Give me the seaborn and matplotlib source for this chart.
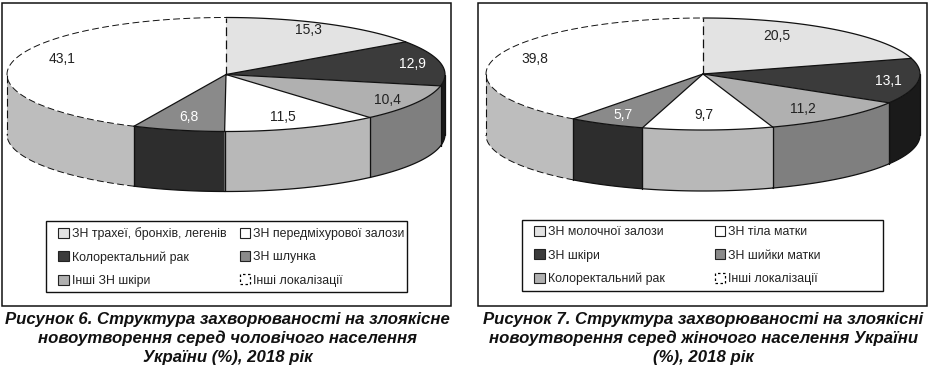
import matplotlib
matplotlib.use("Agg")
import matplotlib.pyplot as plt
import numpy as np
import seaborn as sns
from matplotlib.patches import Patch, Rectangle

# Valores
labels_m = ["ЗН трахеї, бронхів, легенів", "Колоректальний рак", "Інші ЗН шкіри",
            "ЗН передміхурової залози", "ЗН шлунка", "Інші локалізації"]
values_m = [15.3, 12.9, 10.4, 11.5, 6.8, 43.1]
title_m = "Рисунок 6. Структура захворюваності на злоякісне\nновоутворення серед чоловічого населення\nУкраїни (%), 2018 рік"

labels_f = ["ЗН молочної залози", "ЗН шкіри", "Колоректальний рак",
            "ЗН тіла матки", "ЗН шийки матки", "Інші локалізації"]
values_f = [20.5, 13.1, 11.2, 9.7, 5.7, 39.8]
title_f = "Рисунок 7. Структура захворюваності на злоякісні\nновоутворення серед жіночого населення України\n(%), 2018 рік"

top_colors = ["#e3e3e3", "#3b3b3b", "#b0b0b0", "#ffffff", "#8a8a8a", "#ffffff"]
side_colors = ["#e3e3e3", "#1a1a1a", "#7f7f7f", "#b8b8b8", "#2d2d2d", "#bdbdbd"]
text_colors = ["#222222", "#ffffff", "#222222", "#222222", "#ffffff", "#222222"]

sns.set_theme(style="white")
plt.rcParams["font.family"] = ["Liberation Sans", "DejaVu Sans"]

W, H = 933, 366
DASH = (0, (7, 3.5))
fig = plt.figure(figsize=(W / 100, H / 100), dpi=100)

# Capa de fondo en pixeles: marcos, textos y leyendas
bg = fig.add_axes([0, 0, 1, 1])
bg.set_xlim(0, W)
bg.set_ylim(H, 0)
bg.axis("off")
bg.set_zorder(5)


def pastel(values, labels, title, cx, cy, a, b, depth, frame, box, col_gap, text_pos):
    ax = fig.add_axes([(cx - a) / W, 1 - (cy + b) / H, 2 * a / W, 2 * b / H])
    wedges, _ = ax.pie(values, startangle=90, counterclock=False, colors=top_colors)
    ax.set_aspect("auto")
    ax.set_xlim(-1, 1)
    ax.set_ylim(-1, 1)
    ax.axis("off")
    for w in wedges:
        w.set_linewidth(0)
        w.set_zorder(3)

    d = depth / b
    ends = np.cumsum(values) / np.sum(values) * 360
    starts = np.r_[0, ends[:-1]]
    n = len(values)
    for i in range(n):
        st = DASH if i == n - 1 else "-"
        lw = 0.7 if i == n - 1 else 0.9

        # borde superior de cada rebanada
        t = np.radians(np.linspace(starts[i], ends[i], 120))
        ax.plot(np.sin(t), np.cos(t), color="#111111", lw=lw, ls=st, zorder=4, clip_on=False)
        r = np.radians(starts[i])
        ax.plot([0, np.sin(r)], [0, np.cos(r)], color="#111111", lw=0.9,
                ls=DASH if i == 0 else "-", zorder=4, clip_on=False)

        # pared lateral visible (solo la parte de adelante)
        lo, hi = max(starts[i], 90), min(ends[i], 270)
        if lo >= hi:
            continue
        t = np.radians(np.linspace(lo, hi, 120))
        x, y = np.sin(t), np.cos(t)
        ax.fill(np.r_[x, x[::-1]], np.r_[y, y[::-1] - d], color=side_colors[i], lw=0,
                zorder=2, clip_on=False)
        ax.plot(x, y - d, color="#111111", lw=lw, ls=st, zorder=4, clip_on=False)
        ax.plot([x[0], x[0]], [y[0], y[0] - d], color="#111111", lw=0.9, zorder=4, clip_on=False)
        ax.plot([x[-1], x[-1]], [y[-1], y[-1] - d], color="#111111", lw=0.8,
                ls=st, zorder=4, clip_on=False)

    for i, v in enumerate(values):
        bg.text(text_pos[i][0], text_pos[i][1], f"{v:.1f}".replace(".", ","), color=text_colors[i],
                fontsize=10, ha="center", va="center")

    x0, x1 = frame
    bg.add_patch(Rectangle((x0, 3), x1 - x0, 303, fill=False, ec="#111111", lw=1.1))

    # recuadro de la leyenda, fijo para las dos figuras
    bg.add_patch(Rectangle((box[0], box[1]), 361, 71, fill=False, ec="#111111", lw=1.0))
    handles = []
    for i, lab in enumerate(labels):
        if i == n - 1:
            handles.append(Patch(fc="white", ec="black", ls=(0, (2, 2)), lw=0.9, label=lab))
        else:
            handles.append(Patch(fc=top_colors[i], ec="#222222", lw=0.8, label=lab))
    leg = bg.legend(handles=handles, ncols=2, loc="upper left", bbox_to_anchor=(box[0] + 12, box[1] + 6),
                    bbox_transform=bg.transData, borderaxespad=0, fontsize=8.9, frameon=False,
                    handlelength=0.85, handleheight=0.85, handletextpad=0.25, labelspacing=0.9,
                    columnspacing=col_gap, borderpad=0, labelcolor="#222222")

    bg.text((x0 + x1) / 2 + 1, 338.5, title, fontsize=12.03, fontweight="bold", style="italic",
            color="#111111", ha="center", va="center", linespacing=1.3)
    return leg


leg1 = pastel(values_m, labels_m, title_m, 226, 74.5, 219, 57, 60, (2, 451), (46, 221), 1.1,
              [(308, 30), (412, 64), (387, 100), (283, 117), (189, 117), (62, 59)])
leg2 = pastel(values_f, labels_f, title_f, 703, 74, 217, 56, 61, (478, 927), (522, 220), 4.05,
              [(777, 36), (888, 81), (803, 109), (704, 115), (623, 115), (535, 59)])
bg.add_artist(leg1)

fig.savefig("out.png", dpi=100, facecolor="white")
